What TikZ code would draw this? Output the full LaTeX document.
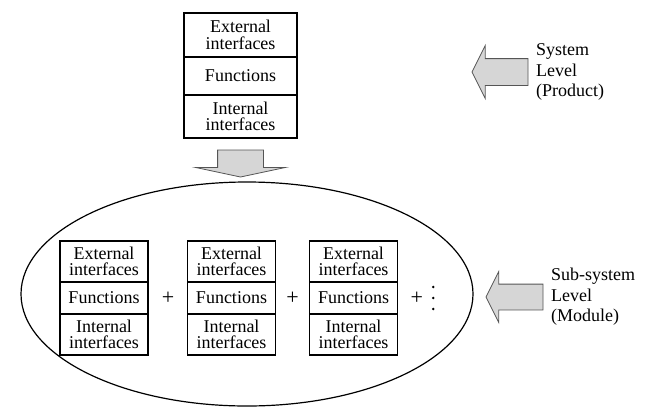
\documentclass[tikz,border=0pt]{standalone}
\usepackage{fontspec}
\setmainfont{Liberation Serif}
\usepackage{xcolor}
\definecolor{lgray}{RGB}{214,214,214}
\definecolor{dgray}{RGB}{85,85,85}
\usetikzlibrary{positioning, shapes.geometric, shapes.arrows}
\tikzstyle{Part} = [
draw,
line width=1.3pt,
outer sep=0pt,
inner sep=0pt,
align=center,
text width=86pt,
minimum width=88pt,
font=\fontsize{18}{16.5}\selectfont]
\tikzstyle{Sign} = [
inner sep=0pt,
font=\fontsize{22}{22}\selectfont]
\tikzstyle{Label} = [
inner sep=0pt,
align=left,
font=\fontsize{18}{20.5}\selectfont]
\tikzstyle{BlockArrow} = [
single arrow,
draw=dgray,
fill=lgray,
line width=0.8pt,
outer sep=0pt]

\begin{document}
\begin{tikzpicture}[x=1pt, y=-1pt]
    \useasboundingbox (0,0) rectangle (645,408);
    \node [draw, ellipse, line width=1.2pt, minimum width=452pt,
        minimum height=224pt] (module) at (247,294) {};

    \node [Part, minimum width=113pt, minimum height=44pt] (ext0) at (240.5,35) {External\\interfaces};
    \node [Part, minimum width=113pt, minimum height=38pt, below =0pt of ext0] (fun0) {Functions};
    \node [Part, minimum width=113pt, minimum height=43pt, below =0pt of fun0] (int0) {Internal\\interfaces};

    \foreach \i/\x in {1/104, 2/231.5, 3/353.5} {
        \node [Part, minimum height=41pt] (ext\i) at (\x,261.5) {External\\interfaces};
        \node [Part, minimum height=32pt, below =0pt of ext\i] (fun\i) {Functions};
        \node [Part, minimum height=41pt, below =0pt of fun\i] (int\i) {Internal\\interfaces};
    }

    \node [Sign] (plus1) at (168,298) {+};
    \node [Sign] (plus2) at (292.5,298) {+};
    \node [Sign, right =13pt of fun3] (plus3) {+};
    \coordinate [right =10pt of plus3] (more);
    \foreach \dy in {-11, 0, 11}
        \fill ([yshift=\dy pt]more) circle (1.4pt);

    \node [BlockArrow, shape border rotate=270, inner xsep=22.5pt, inner ysep=0pt, minimum height=27pt,
        single arrow head extend=22pt, single arrow tip angle=156, anchor=tip] (down) at (240.5,177) {};
    \node [BlockArrow, shape border rotate=180, inner xsep=0pt, inner ysep=13pt, minimum height=56pt,
        single arrow head extend=13pt, single arrow tip angle=127, anchor=tip] (sysarrow) at (472,72) {};
    \node [BlockArrow, shape border rotate=180, inner xsep=0pt, inner ysep=12.5pt, minimum height=57pt,
        single arrow head extend=12.5pt, single arrow tip angle=127, anchor=tip] (subarrow) at (486,297) {};

    \node [Label, right =8pt of sysarrow] (system) {System\\Level\\(Product)};
    \node [Label, right =8pt of subarrow] (subsystem) {Sub-system\\Level\\(Module)};
\end{tikzpicture}
\end{document}
